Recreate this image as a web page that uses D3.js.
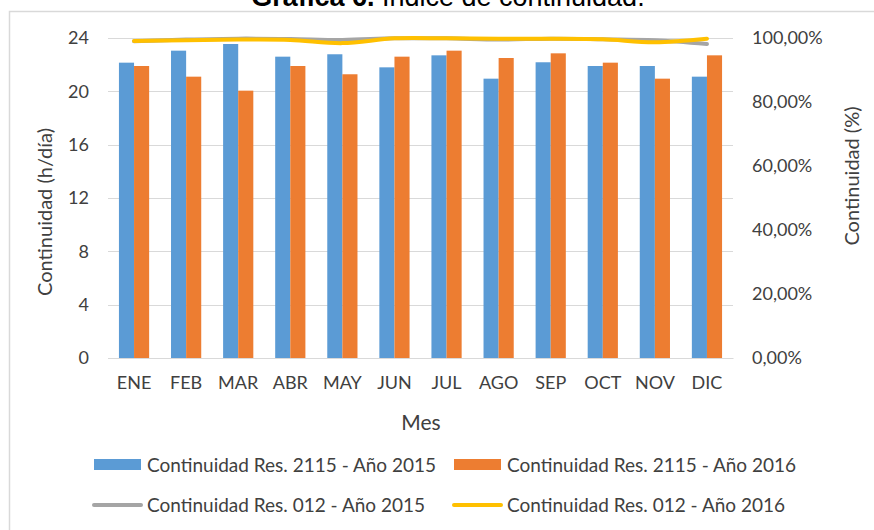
<!DOCTYPE html>
<html>
<head>
<meta charset="utf-8">
<title>Índice de continuidad</title>
<script src="https://cdnjs.cloudflare.com/ajax/libs/d3/7.8.5/d3.min.js"></script>
<style>
    body { margin: 0; background: #fff; }
    text { font-family: "Lato", "Open Sans", sans-serif; fill: #404040; }
    .title { font-family: "Liberation Sans", Arial, sans-serif; fill: #000; }
    .grid line { stroke: #d9d9d9; stroke-width: 1; }
</style>
</head>
<body>
<svg id="chart" width="874" height="530"></svg>
<script>
    // data
    var meses = ["ENE", "FEB", "MAR", "ABR", "MAY", "JUN", "JUL", "AGO", "SEP", "OCT", "NOV", "DIC"];
    var res2115_2015 = [22.15, 23.05, 23.55, 22.6, 22.78, 21.8, 22.7, 20.95, 22.18, 21.9, 21.9, 21.1];
    var res2115_2016 = [21.9, 21.1, 20.05, 21.9, 21.28, 22.6, 23.05, 22.5, 22.85, 22.15, 20.95, 22.7];
    var res012_2015 = [0.990, 0.995, 0.998, 0.997, 0.994, 0.999, 0.999, 0.995, 0.998, 0.996, 0.993, 0.981];
    var res012_2016 = [0.991, 0.993, 0.995, 0.994, 0.984, 0.999, 0.999, 0.998, 0.998, 0.996, 0.987, 0.998];
    var leftTicks = [0, 4, 8, 12, 16, 20, 24];
    var rightTicks = [0, 0.2, 0.4, 0.6, 0.8, 1];

    var svg = d3.select("#chart");

    var plotLeft = 108, plotRight = 733, plotTop = 38, plotBottom = 358;

    var x = d3.scaleBand()
        .domain(meses)
        .range([plotLeft, plotRight])
        .paddingInner(0.42)
        .paddingOuter(0.21);

    var xSub = d3.scaleBand()
        .domain(["2015", "2016"])
        .range([0, x.bandwidth()]);

    var yL = d3.scaleLinear().domain([0, 24]).range([plotBottom, plotTop]);
    var yR = d3.scaleLinear().domain([0, 1]).range([plotBottom, plotTop]);

    var fmtPct = function(d) {
        return d3.format(".2f")(d * 100).replace(".", ",") + "%";
    };

    // chart border (cut by the picture edges)
    svg.append("rect")
        .attr("x", 9.5).attr("y", 11.5)
        .attr("width", 900).attr("height", 600)
        .attr("fill", "none")
        .attr("stroke", "#d9d9d9")
        .attr("stroke-width", 1.5);

    // title, mostly above the picture
    var title = svg.append("text")
        .attr("class", "title")
        .attr("x", 448).attr("y", 6)
        .attr("text-anchor", "middle")
        .style("font-size", "27px");
    title.append("tspan").style("font-weight", "bold").text("Gráfica 6.");
    title.append("tspan").text(" Índice de continuidad.");

    // gridlines
    svg.append("g").attr("class", "grid")
        .selectAll("line")
        .data(leftTicks)
        .enter().append("line")
        .attr("x1", plotLeft).attr("x2", plotRight)
        .attr("y1", function(d) { return Math.round(yL(d)) + 0.5; })
        .attr("y2", function(d) { return Math.round(yL(d)) + 0.5; });

    // left axis
    var axL = svg.append("g")
        .attr("transform", "translate(" + (plotLeft - 19) + ",0)")
        .call(d3.axisLeft(yL).tickValues(leftTicks).tickSize(0).tickPadding(0));
    axL.select(".domain").remove();
    axL.selectAll("text").style("font-size", "18px").style("font-family", "Lato").attr("fill", "#404040");

    // right axis
    var axR = svg.append("g")
        .attr("transform", "translate(" + (plotRight + 19) + ",0)")
        .call(d3.axisRight(yR).tickValues(rightTicks).tickFormat(fmtPct).tickSize(0).tickPadding(0));
    axR.select(".domain").remove();
    axR.selectAll("text").style("font-size", "18px").style("font-family", "Lato").attr("fill", "#404040");

    // bars
    var groups = svg.append("g")
        .selectAll("g")
        .data(meses)
        .enter().append("g")
        .attr("transform", function(d) { return "translate(" + x(d) + ",0)"; });

    groups.append("rect")
        .attr("x", xSub("2015"))
        .attr("width", xSub.bandwidth())
        .attr("y", function(d, i) { return yL(res2115_2015[i]); })
        .attr("height", function(d, i) { return plotBottom - yL(res2115_2015[i]); })
        .attr("fill", "#5b9bd5");

    groups.append("rect")
        .attr("x", xSub("2016"))
        .attr("width", xSub.bandwidth())
        .attr("y", function(d, i) { return yL(res2115_2016[i]); })
        .attr("height", function(d, i) { return plotBottom - yL(res2115_2016[i]); })
        .attr("fill", "#ed7d31");

    // x axis
    var axX = svg.append("g")
        .attr("transform", "translate(0," + plotBottom + ")")
        .call(d3.axisBottom(x).tickSize(0).tickPadding(18));
    axX.select(".domain").attr("stroke", "#d9d9d9");
    axX.selectAll("text").style("font-size", "18px").style("font-family", "Lato").attr("fill", "#404040");

    // lines
    var line = d3.line()
        .x(function(d, i) { return x(meses[i]) + x.bandwidth() / 2; })
        .y(function(d) { return yR(d); })
        .curve(d3.curveCatmullRom.alpha(0.5));

    svg.append("path")
        .datum(res012_2015)
        .attr("d", line)
        .attr("fill", "none")
        .attr("stroke", "#a5a5a5")
        .attr("stroke-width", 4)
        .attr("stroke-linecap", "round");

    svg.append("path")
        .datum(res012_2016)
        .attr("d", line)
        .attr("fill", "none")
        .attr("stroke", "#ffc000")
        .attr("stroke-width", 4)
        .attr("stroke-linecap", "round");

    // axis titles
    svg.append("text")
        .attr("transform", "translate(52,212) rotate(-90)")
        .attr("text-anchor", "middle")
        .style("font-size", "20px")
        .text("Continuidad (h/día)");

    svg.append("text")
        .attr("transform", "translate(859,176) rotate(-90)")
        .attr("text-anchor", "middle")
        .style("font-size", "20px")
        .text("Continuidad (%)");

    svg.append("text")
        .attr("x", 421).attr("y", 430)
        .attr("text-anchor", "middle")
        .style("font-size", "21px")
        .text("Mes");

    // legend
    var legend = [
        { name: "Continuidad Res. 2115 - Año 2015", color: "#5b9bd5", type: "bar", x: 94, y: 465 },
        { name: "Continuidad Res. 2115 - Año 2016", color: "#ed7d31", type: "bar", x: 454, y: 465 },
        { name: "Continuidad Res. 012 - Año 2015", color: "#a5a5a5", type: "line", x: 94, y: 505 },
        { name: "Continuidad Res. 012 - Año 2016", color: "#ffc000", type: "line", x: 454, y: 505 }
    ];

    var lg = svg.append("g").selectAll("g")
        .data(legend)
        .enter().append("g")
        .attr("transform", function(d) { return "translate(" + d.x + "," + d.y + ")"; });

    lg.filter(function(d) { return d.type == "bar"; })
        .append("rect")
        .attr("x", 0).attr("y", -6)
        .attr("width", 47).attr("height", 11)
        .attr("fill", function(d) { return d.color; });

    lg.filter(function(d) { return d.type == "line"; })
        .append("line")
        .attr("x1", 0).attr("x2", 47)
        .attr("stroke", function(d) { return d.color; })
        .attr("stroke-width", 4)
        .attr("stroke-linecap", "round");

    lg.append("text")
        .attr("x", 53)
        .attr("dy", "0.35em")
        .style("font-size", "19px")
        .text(function(d) { return d.name; });
</script>
</body>
</html>
